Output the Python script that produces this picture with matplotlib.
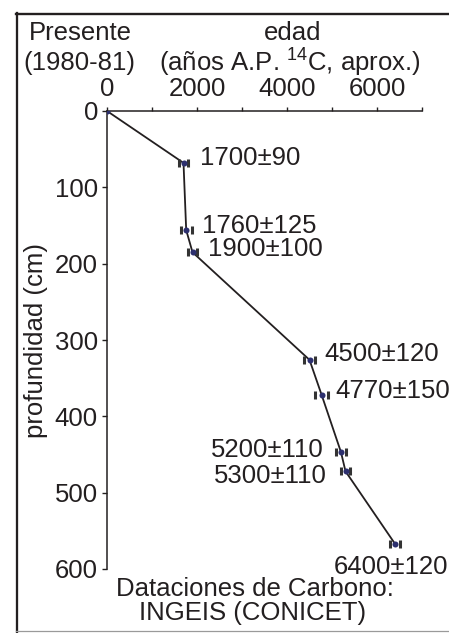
import matplotlib
matplotlib.use("Agg")
import matplotlib.pyplot as plt
from matplotlib.lines import Line2D

plt.rcParams['font.family'] = ['Liberation Sans', 'DejaVu Sans']
plt.rcParams['mathtext.fontset'] = 'custom'
plt.rcParams['mathtext.rm'] = 'Liberation Sans'
plt.rcParams['mathtext.it'] = 'Liberation Sans'

# Data
ages = [0, 1700, 1760, 1900, 4500, 4770, 5200, 5300, 6400]
errors = [0, 90, 125, 100, 120, 150, 110, 110, 120]
depths = [0, 68, 156, 185, 326, 372, 447, 472, 567]
labels = ["", "1700±90", "1760±125", "1900±100", "4500±120", "4770±150",
          "5200±110", "5300±110", "6400±120"]
x_ticks = [0, 2000, 4000, 6000]
y_ticks = [0, 100, 200, 300, 400, 500, 600]

W, H = 449, 633
DPI = 100
PX = 72.0 / DPI  # points per pixel
FS = 25.7 * PX   # font size in points

fig = plt.figure(figsize=(W / DPI, H / DPI), dpi=DPI)
ax = fig.add_axes([107 / W, 1 - 569 / H, (422 - 107) / W, (569 - 111) / H])

ink = '#231f20'
dot = '#2c2f6e'

ax.plot(ages, depths, color=ink, lw=1.3, zorder=2)
ax.errorbar(ages[1:], depths[1:], xerr=errors[1:], fmt='none', ecolor='#333333',
            elinewidth=0, capsize=3.0, capthick=2.2, zorder=3)
ax.scatter(ages, depths, s=19, color=dot, zorder=4, linewidths=0)

offsets = [None, (16, 5, 'left'), (16, 4, 'left'), (16, 3, 'left'),
           (15, 6, 'left'), (14, 4, 'left'), (-17, 2, 'right'),
           (-19, -5, 'right'), (-4, -23, 'center')]
for a, d, lab, off in zip(ages, depths, labels, offsets):
    if not lab:
        continue
    dx, dy, ha = off
    ax.annotate(lab, (a, d), xytext=(dx * PX, dy * PX), textcoords='offset points',
                ha=ha, va='center', fontsize=FS, color=ink)

ax.set_xlim(0, 7000)
ax.set_ylim(600, 0)
ax.xaxis.tick_top()
ax.set_xticks(x_ticks)
ax.set_xticks(range(0, 7001, 1000), minor=True)
ax.set_yticks(y_ticks)
ax.tick_params(axis='x', which='both', length=3, width=1, color=ink, pad=4,
               labelsize=FS, labelcolor=ink)
ax.tick_params(axis='y', which='both', length=3.5, width=1, color=ink, pad=3,
               labelsize=FS, labelcolor=ink)
ax.spines['right'].set_visible(False)
ax.spines['bottom'].set_visible(False)
for s in ('left', 'top'):
    ax.spines[s].set_color(ink)
    ax.spines[s].set_linewidth(1.1)
ax.patch.set_alpha(0)

# Texts
fig.text(80 / W, 1 - 33 / H, "Presente", ha='center', va='center', fontsize=FS, color=ink)
fig.text(79 / W, 1 - 63 / H, "(1980-81)", ha='center', va='center', fontsize=FS, color=ink)
fig.text(293 / W, 1 - 33 / H, "edad", ha='center', va='center', fontsize=FS, color=ink)
fig.text(290 / W, 1 - 63 / H, r"(años A.P. $^{14}$C, aprox.)", ha='center', va='center',
         fontsize=FS, color=ink)
fig.text(36 / W, 1 - 340 / H, "profundidad (cm)", ha='center', va='center', rotation=90,
         fontsize=FS, color=ink)
fig.text(255 / W, 1 - 589 / H, "Dataciones de Carbono:", ha='center', va='center',
         fontsize=FS, color=ink)
fig.text(253 / W, 1 - 613 / H, "INGEIS (CONICET)", ha='center', va='center',
         fontsize=FS, color=ink)

# Frame
fig.add_artist(Line2D([16.5 / W, 16.5 / W], [1 - 13 / H, 0], transform=fig.transFigure,
                      color=ink, lw=1.65))
fig.add_artist(Line2D([16 / W, 1], [1 - 13.5 / H, 1 - 13.5 / H], transform=fig.transFigure,
                      color=ink, lw=1.7))
fig.add_artist(Line2D([16 / W, 1], [1 - 631 / H, 1 - 631 / H], transform=fig.transFigure,
                      color='#9a9a9a', lw=0.9))

fig.savefig("out.png", dpi=DPI)
